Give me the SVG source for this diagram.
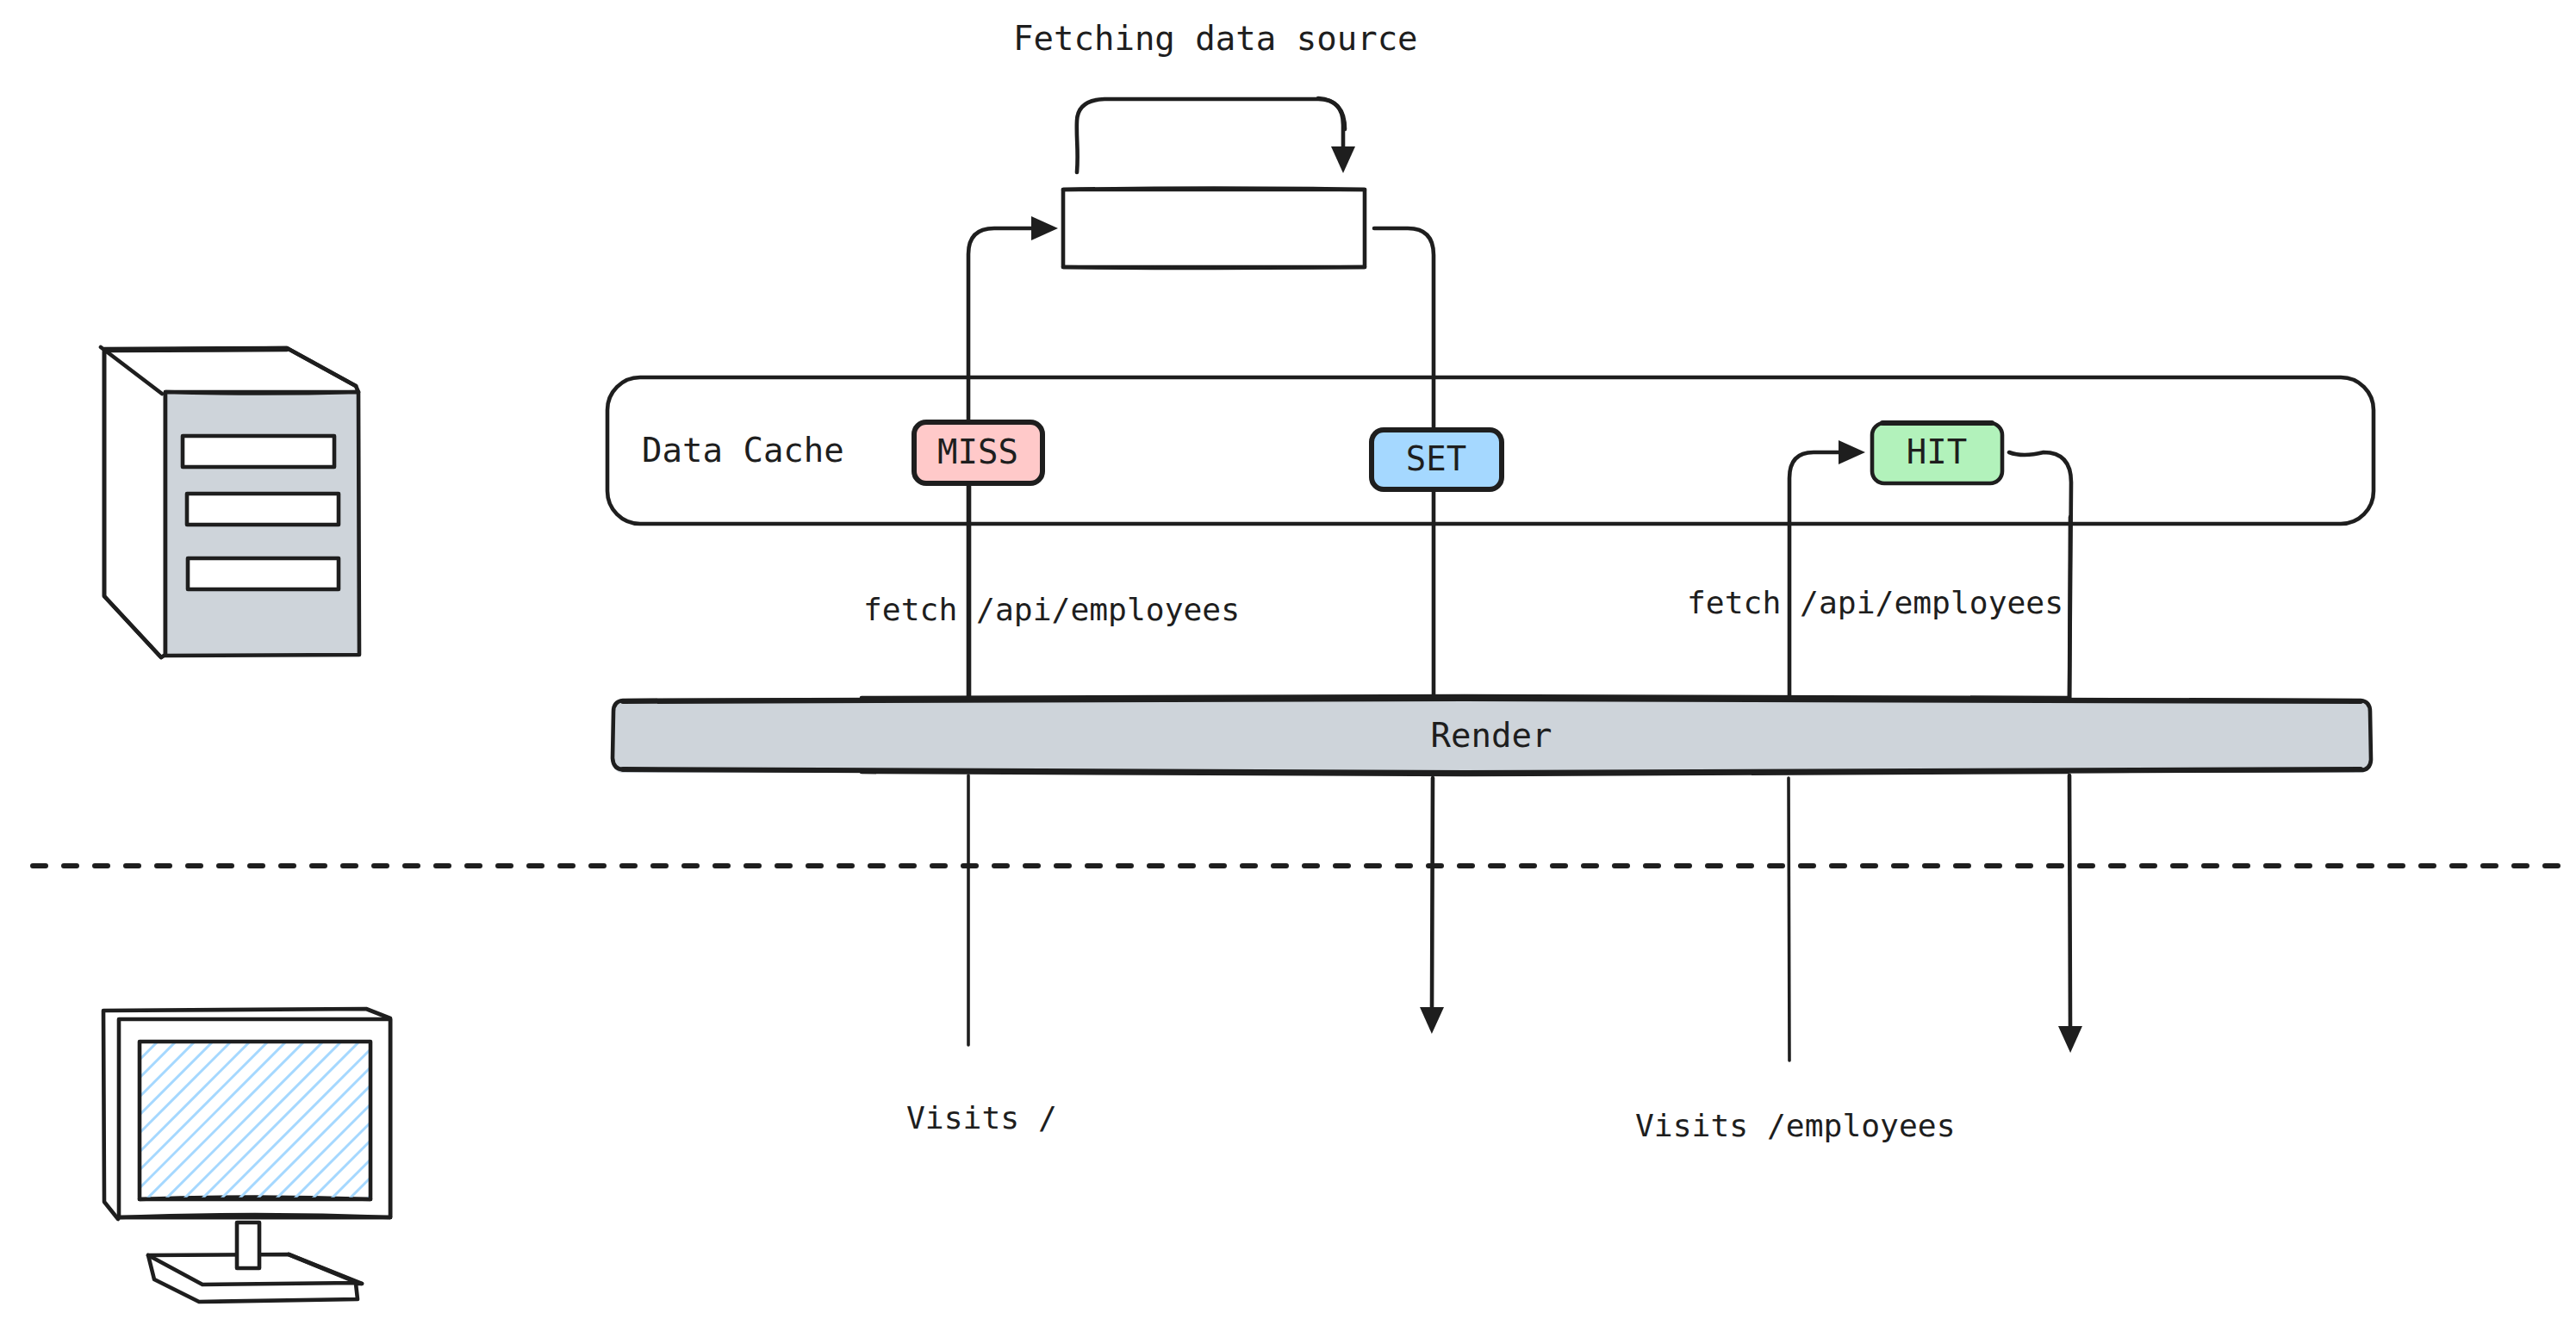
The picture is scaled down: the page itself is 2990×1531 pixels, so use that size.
<svg xmlns="http://www.w3.org/2000/svg" width="2990" height="1531" viewBox="0 0 2990 1531">
<style>
.s{fill:none;stroke:#1e1e1e;stroke-width:4.6;stroke-linecap:round;stroke-linejoin:round}
.t{stroke-width:3.6}
.b{stroke-width:6}
.w{fill:#fff}
.g{fill:#ced4da}
.l{font-family:"DejaVu Sans Mono","Liberation Mono",monospace;fill:#1e1e1e;font-size:36.3px}
.m{font-size:39px}
.c{text-anchor:middle}
</style>
<defs>
<marker id="ah" viewBox="0 0 31 28" refX="0" refY="14" markerWidth="31" markerHeight="28" markerUnits="userSpaceOnUse" orient="auto">
<path d="M0 0L31 14L0 28Z" fill="#1e1e1e"/>
</marker>
<clipPath id="scr"><rect x="162" y="1209" width="268" height="183"/></clipPath>
</defs>
<rect width="2990" height="1531" fill="#fff"/>
<g id="connectors">
<path class="s" d="M1250 200C1252 175 1249 160 1250 140Q1251 116 1282 115L1530 115Q1559 115 1559 145L1559 170" marker-end="url(#ah)"/>
<path class="s" d="M1530 114Q1561 116 1561 150"/>
<path class="s" d="M1124 817L1124 295Q1124 265 1154 265L1197 265" marker-end="url(#ah)"/>
<path class="s" d="M1125 561L1125 817"/>
<path class="s" d="M1595 265L1634 265Q1664 265 1664 296L1664 600L1664 817"/>
<path class="s" d="M2077 817L2077 555Q2077 525 2105 525L2134 525" marker-end="url(#ah)"/>
<path class="s" d="M2332 525Q2348 531 2372 525Q2404 525 2404 560L2402 815"/>
<path class="s" d="M2403 600L2402 815"/>
<path class="s t" d="M1124 900L1124 1213"/>
<path class="s" d="M1663 903L1662 1169" marker-end="url(#ah)"/>
<path class="s t" d="M2076 903L2077 1231"/>
<path class="s" d="M2402 900L2403 1191" marker-end="url(#ah)"/>
<path id="divider" class="s b" d="M38 1005L2975 1005" stroke-dasharray="15 21"/>
</g>
<g id="fetching-source">
<rect class="s" x="1234" y="220" width="350" height="90"/>
<path class="s" d="M1234 220Q1410 217 1584 220M1234 310Q1410 312 1584 310"/>
<text class="l m" x="1176" y="58">Fetching data source</text>
</g>
<g id="data-cache">
<rect class="s" x="705" y="438" width="2050" height="170" rx="38"/>
<text class="l m" x="745" y="536">Data Cache</text>
</g>
<g id="miss">
<rect class="s b" style="fill:#ffc9c9" x="1061" y="490" width="149" height="71" rx="14"/>
<text class="l m c" x="1135" y="538">MISS</text>
</g>
<g id="set">
<rect class="s b" style="fill:#a5d8ff" x="1592" y="499" width="151" height="69" rx="14"/>
<text class="l m c" x="1667" y="546">SET</text>
</g>
<g id="hit">
<rect class="s" style="fill:#b2f2bb" x="2173" y="491" width="151" height="70" rx="14"/>
<path class="s b" d="M2185 491L2312 491"/>
<text class="l m c" x="2248" y="538">HIT</text>
</g>
<g id="render">
<rect class="g" x="711" y="813" width="2040" height="84" rx="12"/>
<path class="s" d="M723 813L1700 810L2740 813Q2751 814 2751 826L2752 882Q2751 894 2740 894L1700 898L723 893Q712 893 711 880L712 826Q712 814 723 813Z"/>
<path class="s b" d="M723 814L1700 811L2740 814M723 893L1700 897L2740 893"/>
<path class="s" d="M1000 810L1700 808L2400 810M1000 896L1700 899L2400 896"/>
<text class="l m c" x="1731" y="867">Render</text>
</g>
<g id="labels">
<text class="l" x="1002" y="720">fetch /api/employees</text>
<text class="l" x="1958" y="712">fetch /api/employees</text>
<text class="l" x="1052" y="1310">Visits /</text>
<text class="l" x="1898" y="1319">Visits /employees</text>
</g>
<g id="server">
<path class="s w" d="M121 405L333 404L413 448L416 455L192 455L192 760L187 763L121 692Z"/>
<path class="s" d="M117 403L121 406L333 404L413 448M121 406L188 457M121 406L121 692L187 763"/>
<path class="s" d="M123 407L333 406"/>
<path class="s g" d="M192 455Q300 458 416 455L417 760L192 761Z"/>
<rect class="s w" x="212" y="506" width="176" height="36"/>
<rect class="s w" x="217" y="573" width="176" height="36"/>
<rect class="s w" x="218" y="648" width="175" height="36"/>
</g>
<g id="monitor">
<path class="s w" d="M120 1173L425 1171L453 1182L453 1413L138 1413L137 1415L121 1395Z"/>
<rect class="s w" x="138" y="1183" width="315" height="230"/>
<path class="s" d="M138 1413Q296 1407 453 1413M162 1392Q296 1387 430 1392"/>
<g clip-path="url(#scr)">
<path d="M162 1230L430 962M162 1251L430 983M162 1273L430 1005M162 1294L430 1026M162 1315L430 1047M162 1337L430 1069M162 1358L430 1090M162 1379L430 1111M162 1400L430 1132M162 1422L430 1154M162 1443L430 1175M162 1464L430 1196M162 1486L430 1218M162 1507L430 1239M162 1528L430 1260M162 1550L430 1282M162 1571L430 1303M162 1592L430 1324M162 1614L430 1346M162 1635L430 1367M162 1656L430 1388" fill="none" stroke="#a5d8ff" stroke-width="3"/>
</g>
<rect class="s" x="162" y="1209" width="268" height="183"/>
<path class="s w" d="M172 1457L335 1456L420 1490L413 1490L415 1508L231 1511L179 1485Z"/>
<path class="s" d="M172 1457L235 1491L413 1489L420 1490M335 1456L413 1488"/>
<rect class="s w" x="275" y="1419" width="26" height="53"/>
</g>
</svg>
